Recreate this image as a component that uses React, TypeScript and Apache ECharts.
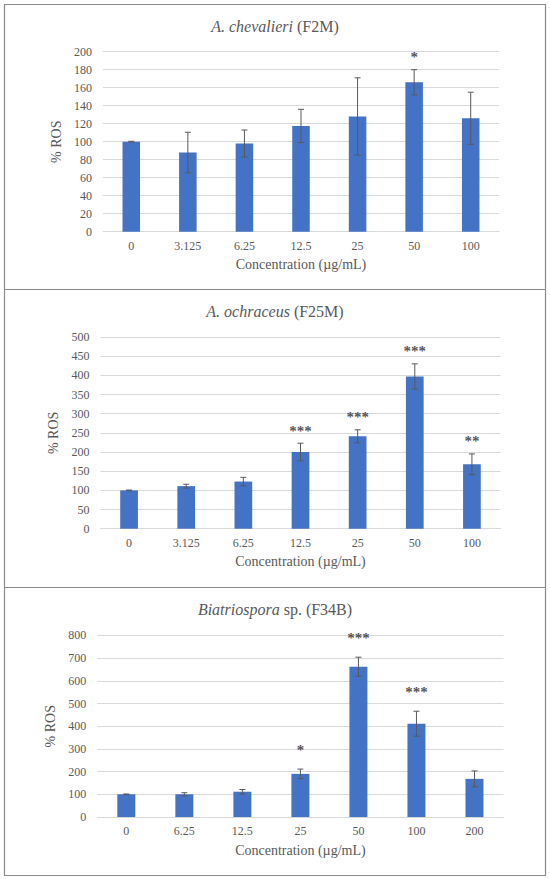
import React, { useEffect, useRef } from "react";
import * as echarts from "echarts";

// ---- data ----
const titlesItalic = ["A. chevalieri", "A. ochraceus", "Biatriospora"];
const titlesPlain = [" (F2M)", " (F25M)", " sp. (F34B)"];

const cats1 = ["0", "3.125", "6.25", "12.5", "25", "50", "100"];
const vals1 = [100, 88, 98, 117.5, 128, 166, 126];
const errs1 = [0.5, 22.5, 15, 18.5, 43, 14, 29];
const stars1 = ["", "", "", "", "", "*", ""];

const cats2 = ["0", "3.125", "6.25", "12.5", "25", "50", "100"];
const vals2 = [100, 111, 123, 200, 241, 397, 168];
const errs2 = [0.8, 5, 11, 23, 17, 33, 27];
const stars2 = ["", "", "", "***", "***", "***", "**"];

const cats3 = ["0", "6.25", "12.5", "25", "50", "100", "200"];
const vals3 = [100, 100, 111, 190, 662, 411, 168];
const errs3 = [1.5, 7, 10, 21, 42, 55, 35];
const stars3 = ["", "", "", "*", "***", "***", ""];

const yMax = [200, 500, 800];
const yStep = [20, 50, 100];

const xName = "Concentration (µg/mL)";
const yName = "% ROS";

const FONT = "Liberation Serif";
const TXT = "#595959";
const GRID = "#d9d9d9";
const BAR = "#4472C4";

const panels = [
  { cats: cats1, vals: vals1, errs: errs1, stars: stars1 },
  { cats: cats2, vals: vals2, errs: errs2, stars: stars2 },
  { cats: cats3, vals: vals3, errs: errs3, stars: stars3 },
];

// layout (pixels)
const grids = [
  { left: 103, right: 51, top: 51.7, height: 180 },
  { left: 100.5, right: 49.5, top: 337, height: 191.7 },
  { left: 97.3, right: 46.5, top: 635.4, height: 181.6 },
];
const titleTops = [13, 298.5, 596];
const starGap = [5, 5, 12];

function buildOption() {
  const title = panels.map((_, i) => ({
    text: "{i|" + titlesItalic[i] + "}{n|" + titlesPlain[i] + "}",
    left: "center",
    top: titleTops[i],
    textStyle: {
      fontFamily: FONT,
      fontSize: 16,
      fontWeight: "normal",
      color: TXT,
      rich: {
        i: { fontFamily: FONT, fontSize: 16, fontStyle: "italic", color: TXT },
        n: { fontFamily: FONT, fontSize: 16, color: TXT },
      },
    },
  }));

  const xAxis = panels.map((p, i) => ({
    type: "category",
    gridIndex: i,
    data: p.cats,
    axisLine: { show: true, lineStyle: { color: GRID, width: 1 } },
    axisTick: { show: false },
    axisLabel: { color: TXT, fontSize: 12, fontFamily: FONT, margin: 8 },
    name: xName,
    nameLocation: "middle",
    nameGap: 26,
    nameTextStyle: { color: TXT, fontSize: 14, fontFamily: FONT },
  }));

  const yAxis = panels.map((_, i) => ({
    type: "value",
    gridIndex: i,
    min: 0,
    max: yMax[i],
    interval: yStep[i],
    axisLine: { show: false },
    axisTick: { show: false },
    splitLine: { lineStyle: { color: GRID, width: 1 } },
    axisLabel: { color: TXT, fontSize: 12, fontFamily: FONT, margin: 11 },
    name: yName,
    nameLocation: "middle",
    nameGap: 29,
    nameTextStyle: { color: TXT, fontSize: 14, fontFamily: FONT },
  }));

  const series: any[] = [];
  panels.forEach((p, i) => {
    series.push({
      type: "bar",
      xAxisIndex: i,
      yAxisIndex: i,
      data: p.vals,
      barWidth: "31%",
      itemStyle: { color: BAR },
      z: 2,
    });
    series.push({
      type: "custom",
      xAxisIndex: i,
      yAxisIndex: i,
      data: p.vals.map((v, k) => [k, v - p.errs[k], v + p.errs[k]]),
      encode: { x: 0, y: [1, 2] },
      z: 3,
      renderItem: (params: any, api: any) => {
        const k = api.value(0);
        const lo = api.coord([k, api.value(1)]);
        const hi = api.coord([k, api.value(2)]);
        const hw = 3;
        const st = { stroke: "#595959", lineWidth: 1 };
        return {
          type: "group",
          children: [
            { type: "line", shape: { x1: hi[0], y1: hi[1], x2: lo[0], y2: lo[1] }, style: st },
            { type: "line", shape: { x1: hi[0] - hw, y1: hi[1], x2: hi[0] + hw, y2: hi[1] }, style: st },
            { type: "line", shape: { x1: lo[0] - hw, y1: lo[1], x2: lo[0] + hw, y2: lo[1] }, style: st },
          ],
        };
      },
    });
    series.push({
      type: "scatter",
      xAxisIndex: i,
      yAxisIndex: i,
      symbolSize: 0,
      z: 4,
      data: p.stars
        .map((s, k) => (s ? { name: s, value: [k, p.vals[k] + p.errs[k]] } : null))
        .filter((d) => d !== null),
      label: {
        show: true,
        position: "top",
        distance: starGap[i],
        formatter: "{b}",
        color: "#262626",
        fontSize: 15,
        fontWeight: "bold",
        fontFamily: FONT,
      },
    });
  });

  const borderColor = "#8a8a8a";
  const graphic = [
    {
      type: "rect",
      shape: { x: 4.5, y: 4.5, width: 541, height: 871 },
      style: { fill: "none", stroke: borderColor, lineWidth: 1.2 },
      silent: true,
    },
    {
      type: "line",
      shape: { x1: 4.5, y1: 289.5, x2: 545.5, y2: 289.5 },
      style: { stroke: borderColor, lineWidth: 1.2 },
      silent: true,
    },
    {
      type: "line",
      shape: { x1: 4.5, y1: 587.5, x2: 545.5, y2: 587.5 },
      style: { stroke: borderColor, lineWidth: 1.2 },
      silent: true,
    },
  ];

  return {
    animation: false,
    backgroundColor: "#ffffff",
    textStyle: { fontFamily: FONT },
    title,
    grid: grids.map((g) => ({ ...g, containLabel: false })),
    xAxis,
    yAxis,
    series,
    graphic,
  };
}

export default function App() {
  const ref = useRef<HTMLDivElement>(null);
  useEffect(() => {
    if (!ref.current) return;
    const chart = echarts.init(ref.current, undefined, { renderer: "svg" });
    chart.setOption(buildOption() as any);
    return () => chart.dispose();
  }, []);
  return (
    <div
      ref={ref}
      style={{ position: "fixed", left: 0, top: 0, width: 550, height: 879, background: "#fff" }}
    />
  );
}
